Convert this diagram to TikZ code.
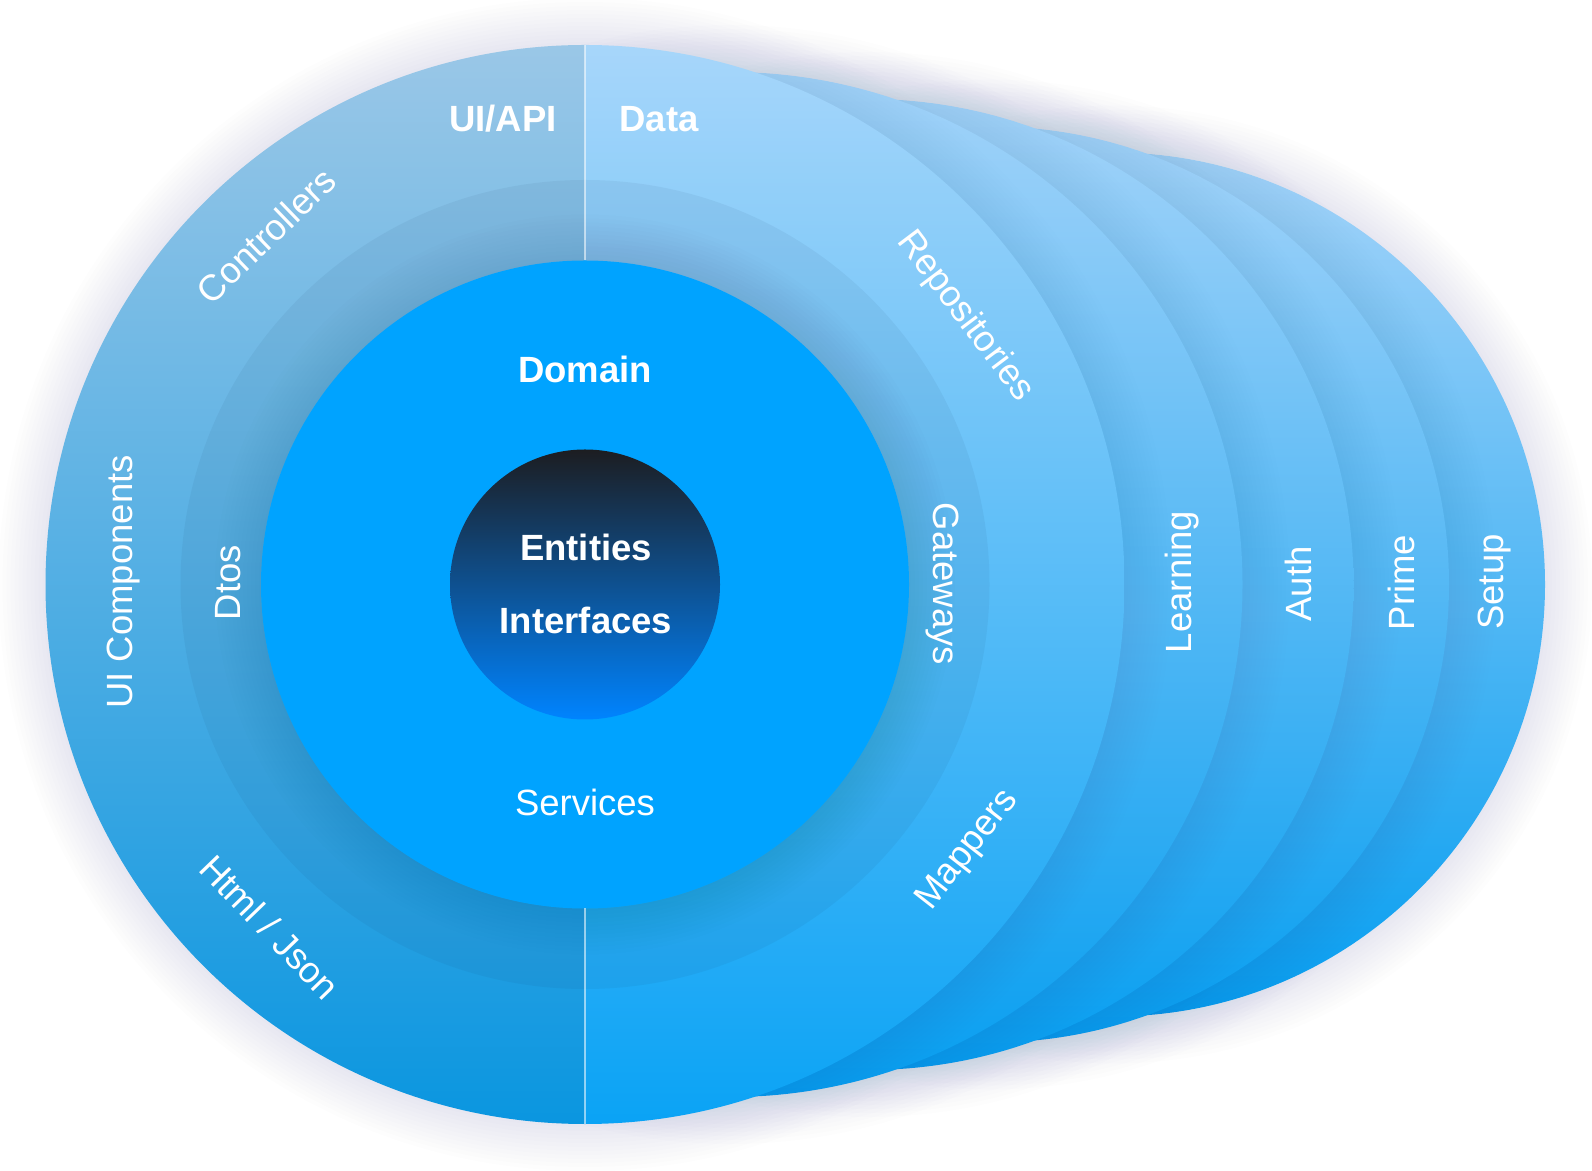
\documentclass[tikz,border=0pt]{standalone}
\usepackage{fontspec}
\setmainfont{Liberation Sans}
\definecolor{leftTop}{RGB}{154,199,231}
\definecolor{leftBot}{RGB}{10,150,224}
\definecolor{dataTop}{RGB}{167,214,250}
\definecolor{dataBot}{RGB}{10,163,245}
\definecolor{backTop}{RGB}{163,211,249}
\definecolor{backBot}{RGB}{6,158,240}
\definecolor{shadowc}{RGB}{80,98,125}
\definecolor{ringc}{RGB}{20,50,90}
\definecolor{domainc}{RGB}{0,163,255}
\definecolor{coreTop}{RGB}{28,29,33}
\definecolor{coreBot}{RGB}{0,132,255}
\newcommand\mkshadow[3]{\foreach \d in {3,7,...,47}{\fill[shadowc,fill opacity=0.0075] (#1,#2) circle [radius=#3+\d];}}
\begin{document}
\begin{tikzpicture}[x=1pt,y=1pt,
  lbl/.style={text=white, font=\fontsize{36.5}{44}\selectfont, inner sep=0pt},
  blbl/.style={text=white, font=\fontsize{36.5}{44}\selectfont\bfseries, inner sep=0pt}]
\useasboundingbox (0,0) rectangle (1592,1170);
\fill[white] (0,0) rectangle (1592,1170);
% layers behind the Data half
\foreach \cx/\r in {1113/432, 991/458, 868/485.5, 730/512.5}{
  \mkshadow{\cx}{585.5}{\r}
  \shade[top color=backTop, bottom color=backBot] (\cx,585.5) circle [radius=\r];
}
% main circle
\mkshadow{585}{585.5}{539.5}
\begin{scope}
  \clip (0,0) rectangle (585,1170);
  \shade[top color=leftTop, bottom color=leftBot] (585,585.5) circle [radius=539.5];
\end{scope}
\begin{scope}
  \clip (585,0) rectangle (1592,1170);
  \shade[top color=dataTop, bottom color=dataBot] (585,585.5) circle [radius=539.5];
\end{scope}
% middle ring
\fill[ringc, fill opacity=0.06, even odd rule] (585,585.5) circle [radius=404.5] (585,585.5) circle [radius=324];
\foreach \d in {2,6,...,46}{\fill[ringc, fill opacity=0.007] (585,585.5) circle [radius=324+\d];}
% domain
\fill[domainc] (585,585.5) circle [radius=324];
\shade[top color=coreTop, bottom color=coreBot] (585,585.5) circle [radius=135];
% divider
\coordinate (dtA) at (585,1125);
\coordinate (dtB) at (585,909.5);
\coordinate (dbA) at (585,261.5);
\coordinate (dbB) at (585,46);
\draw[white, draw opacity=0.55, line width=1.5] (dtA) -- (dtB);
\draw[white, draw opacity=0.55, line width=1.5] (dbA) -- (dbB);
% labels
\node[blbl, anchor=base] (uiapi) at (503,1038.3) {UI/API};
\node[blbl, anchor=base] (data) at (659,1038.3) {Data};
\node[blbl, anchor=base] (domain) at (585,787) {Domain};
\node[blbl, anchor=base] (entities) at (586,609.3) {Entities};
\node[blbl, anchor=base] (interfaces) at (586,536) {Interfaces};
\node[lbl, anchor=base] (services) at (585,354) {Services};
\node[lbl, rotate=44] (controllers) at (266,934.5) {Controllers};
\node[lbl, rotate=90] (uicomp) at (123.5,588) {UI Components};
\node[lbl, rotate=90] (dtos) at (228,587.5) {Dtos};
\node[lbl, rotate=-46] (htmljson) at (270,243) {Html / Json};
\node[lbl, rotate=-53] (repos) at (965,853.5) {Repositories};
\node[lbl, rotate=-90] (gateways) at (942,586) {Gateways};
\node[lbl, rotate=52] (mappers) at (968,319.5) {Mappers};
\node[lbl, rotate=90] (learning) at (1181.7,588) {Learning};
\node[lbl, rotate=90] (auth) at (1298,586) {Auth};
\node[lbl, rotate=90] (prime) at (1401.7,587.5) {Prime};
\node[lbl, rotate=90] (setup) at (1495,588) {Setup};
\end{tikzpicture}
\end{document}
